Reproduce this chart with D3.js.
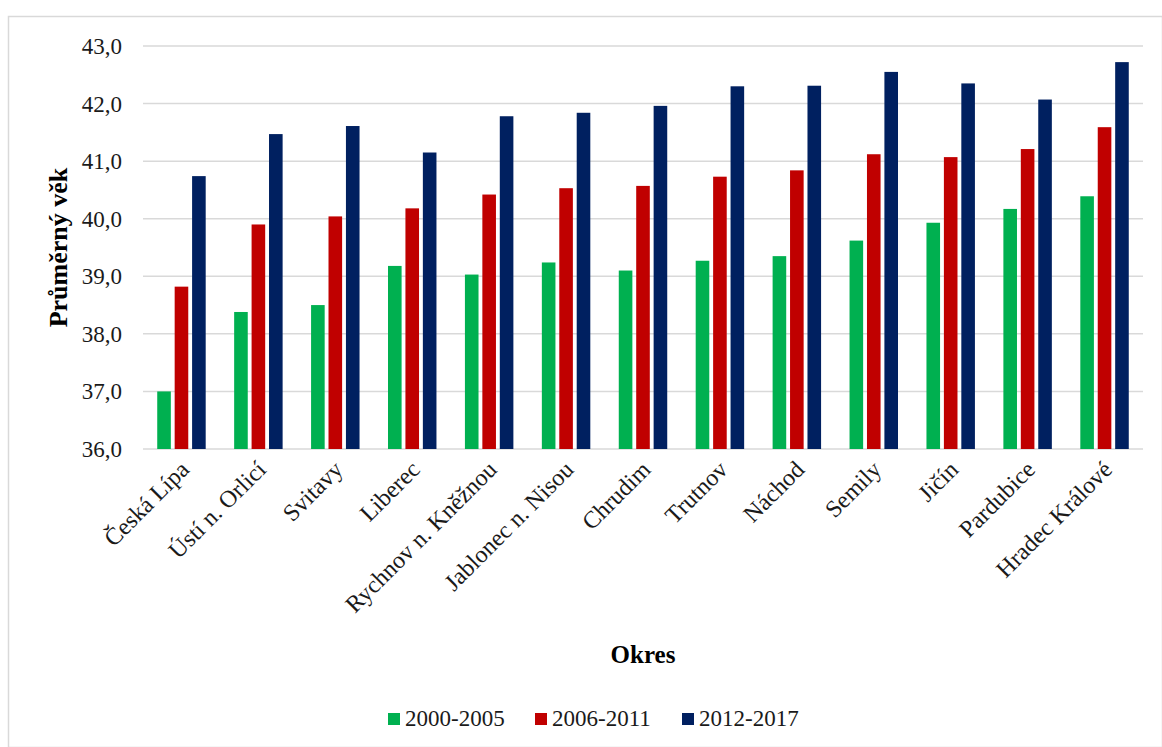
<!DOCTYPE html>
<html>
<head>
  <meta charset="utf-8">
  <title>Průměrný věk podle okresů</title>
  <style>
    body {
      margin: 0;
      background: #fff;
      font-family: "Liberation Serif", "Times New Roman", serif;
    }
  </style>
  <script src="https://d3js.org/d3.v7.min.js"></script>
</head>
<body>
  <svg id="chart" width="1162" height="747"></svg>

  <script>
    var width = 1162,
        height = 747;

    // data
    var okresy = ["Česká Lípa", "Ústí n. Orlicí", "Svitavy", "Liberec", "Rychnov n. Kněžnou",
                  "Jablonec n. Nisou", "Chrudim", "Trutnov", "Náchod", "Semily", "Jičín",
                  "Pardubice", "Hradec Králové"];
    var obdobi = ["2000-2005", "2006-2011", "2012-2017"];
    var v2000 = [37.00, 38.38, 38.50, 39.18, 39.03, 39.24, 39.10, 39.27, 39.35, 39.62, 39.93, 40.17, 40.39];
    var v2006 = [38.82, 39.90, 40.04, 40.18, 40.42, 40.53, 40.57, 40.73, 40.84, 41.12, 41.07, 41.21, 41.59];
    var v2012 = [40.74, 41.47, 41.61, 41.15, 41.78, 41.84, 41.96, 42.30, 42.31, 42.55, 42.35, 42.07, 42.72];
    var yTicks = [36, 37, 38, 39, 40, 41, 42, 43];
    var barvy = ["#00b050", "#c00000", "#002060"];

    var series = [v2000, v2006, v2012];

    var svg = d3.select("#chart");

    // outer frame
    svg.append("rect")
        .attr("x", 8.5)
        .attr("y", 16.5)
        .attr("width", width - 8)
        .attr("height", height - 16)
        .attr("fill", "#fff")
        .attr("stroke", "#d9d9d9")
        .attr("stroke-width", 1.5);

    var plotLeft = 143, plotRight = 1143, plotTop = 46, plotBottom = 449;

    var x = d3.scaleBand()
        .domain(okresy)
        .range([plotLeft, plotRight])
        .paddingInner(0.37)
        .paddingOuter(0.185);

    var xInner = d3.scaleBand()
        .domain(obdobi)
        .range([0, x.bandwidth()])
        .paddingInner(0.22);

    var y = d3.scaleLinear()
        .domain([36, 43])
        .range([plotBottom, plotTop]);

    // gridlines
    svg.append("g")
        .selectAll("line")
        .data(yTicks)
        .join("line")
        .attr("x1", plotLeft)
        .attr("x2", plotRight)
        .attr("y1", d => y(d))
        .attr("y2", d => y(d))
        .attr("stroke", "#d9d9d9")
        .attr("stroke-width", 1.5);

    // y tick labels
    svg.append("g")
        .selectAll("text")
        .data(yTicks)
        .join("text")
        .attr("x", 122)
        .attr("y", d => y(d))
        .attr("dy", "0.35em")
        .attr("text-anchor", "end")
        .style("font-size", "23px")
        .attr("fill", "#1a1a1a")
        .text(d => d3.format(".1f")(d).replace(".", ","));

    // bars
    var groups = svg.append("g")
        .selectAll("g")
        .data(okresy)
        .join("g")
        .attr("transform", d => "translate(" + x(d) + ",0)");

    groups.selectAll("rect")
        .data((d, i) => obdobi.map((o, j) => ({ obdobi: o, value: series[j][i], j: j })))
        .join("rect")
        .attr("x", d => xInner(d.obdobi))
        .attr("y", d => y(d.value))
        .attr("width", xInner.bandwidth())
        .attr("height", d => y(36) - y(d.value))
        .attr("fill", d => barvy[d.j]);

    // x labels, rotated
    svg.append("g")
        .selectAll("text")
        .data(okresy)
        .join("text")
        .attr("text-anchor", "end")
        .attr("transform", d => "translate(" + (x(d) + x.bandwidth() / 2 + 9) + ",471) rotate(-45)")
        .style("font-size", "24px")
        .attr("fill", "#1a1a1a")
        .text(d => d);

    // axis titles
    svg.append("text")
        .attr("transform", "translate(67," + ((plotTop + plotBottom) / 2) + ") rotate(-90)")
        .attr("text-anchor", "middle")
        .style("font-size", "26px")
        .style("font-weight", "bold")
        .text("Průměrný věk");

    svg.append("text")
        .attr("x", 643)
        .attr("y", 663)
        .attr("text-anchor", "middle")
        .style("font-size", "25px")
        .style("font-weight", "bold")
        .text("Okres");

    // legend
    var legendX = [388, 535, 682];
    var legend = svg.append("g")
        .selectAll("g")
        .data(obdobi)
        .join("g")
        .attr("transform", (d, i) => "translate(" + legendX[i] + ",713)");

    legend.append("rect")
        .attr("width", 12)
        .attr("height", 12)
        .attr("fill", (d, i) => barvy[i]);

    legend.append("text")
        .attr("x", 17)
        .attr("y", 13)
        .style("font-size", "23px")
        .attr("fill", "#1a1a1a")
        .text(d => d);
  </script>
</body>
</html>
